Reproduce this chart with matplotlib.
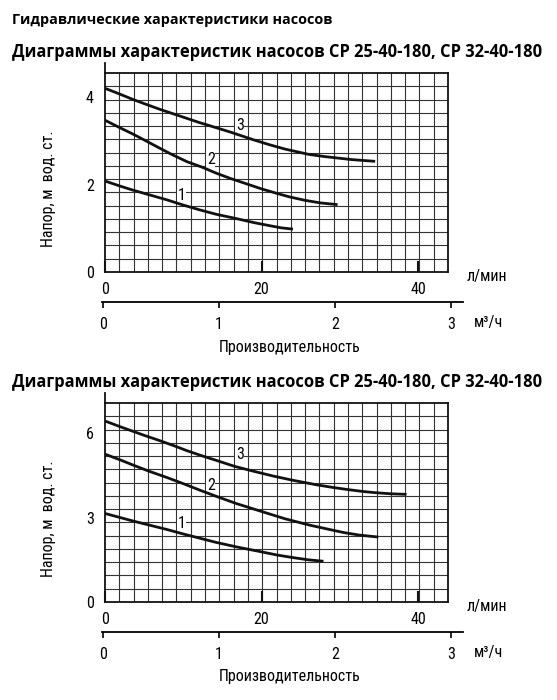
import matplotlib.pyplot as plt

W, H = 557, 700

# данные: расход (л/мин) и напор (м вод. ст.)
q1_a = [0, 2, 3.6, 5.75, 7.9, 10, 12.1, 14.2, 16.8, 19, 21, 22.5, 24]
h1_a = [2.08, 1.96, 1.87, 1.76, 1.65, 1.53, 1.42, 1.32, 1.22, 1.13, 1.06, 1.01, 0.98]
q2_a = [0, 2, 3.5, 5, 7, 8.5, 10.5, 12.5, 14.2, 16, 18, 20, 21.9, 23.5, 25.5, 27.5, 29.7]
h2_a = [3.47, 3.29, 3.16, 3.02, 2.83, 2.69, 2.52, 2.39, 2.26, 2.14, 2.02, 1.90, 1.80, 1.72, 1.64, 1.58, 1.54]
q3_a = [0, 2, 3.5, 5, 7, 9, 10.5, 12, 14, 16, 17.5, 19, 21, 23, 24.5, 26, 28, 30, 31.5, 33, 34.5]
h3_a = [4.20, 4.06, 3.95, 3.85, 3.72, 3.60, 3.51, 3.42, 3.31, 3.20, 3.11, 3.02, 2.91, 2.81, 2.75, 2.69, 2.64, 2.60, 2.57, 2.55, 2.53]

q1_b = [0, 2, 3.6, 5.75, 7.9, 10, 12.1, 14.2, 16.8, 19.7, 22, 24, 26, 27.9]
h1_b = [3.15, 3.00, 2.88, 2.73, 2.58, 2.42, 2.27, 2.12, 1.96, 1.80, 1.67, 1.58, 1.50, 1.45]
q2_b = [0, 2, 3.6, 5.75, 7.9, 10, 12.1, 14.2, 16.8, 20, 23, 26.2, 28.5, 30.5, 32.5, 34.9]
h2_b = [5.26, 5.05, 4.87, 4.64, 4.43, 4.21, 3.98, 3.76, 3.50, 3.22, 2.96, 2.73, 2.59, 2.47, 2.38, 2.31]
q3_b = [0, 2, 3.5, 5, 6.9, 9, 10.5, 12.5, 14.2, 16.5, 19, 21.5, 24, 27, 29, 31, 33, 34.5, 36.5, 38.5]
h3_b = [6.44, 6.23, 6.08, 5.93, 5.75, 5.54, 5.38, 5.19, 5.04, 4.83, 4.65, 4.48, 4.33, 4.17, 4.08, 4.00, 3.93, 3.89, 3.85, 3.83]

yticks_a = [0, 2, 4]
yticks_b = [0, 3, 6]
qticks = [0, 20, 40]
mticks = [0, 1, 2, 3]

title1 = 'Гидравлические характеристики насосов'
title2 = 'Диаграммы характеристик насосов СР 25-40-180, СР 32-40-180'

NARROW = ['Liberation Sans Narrow', 'Roboto Condensed', 'Liberation Sans', 'DejaVu Sans']
BOLD = ['Open Sans', 'DejaVu Sans']
FS = 11.5

fig = plt.figure(figsize=(W / 100, H / 100), dpi=100)


def px(x0, y0, w, h):
    # пиксели (от верхнего левого угла) -> доли фигуры
    return [x0 / W, 1 - (y0 + h) / H, w / W, h / H]


def chart(top, curves, labels, yticks, ymax):
    xmax = 43.8
    ax = fig.add_axes(px(105, top, 343, 199))
    ax.set_xlim(0, xmax)
    ax.set_ylim(0, ymax)
    for i in range(1, 24):
        ax.axvline(i / 24 * xmax, color='#333333', lw=0.8, zorder=1)
    for i in range(1, 15):
        ax.axhline(i / 15 * ymax, color='#333333', lw=0.8, zorder=1)
    for s in ax.spines.values():
        s.set_linewidth(1.3)
        s.set_color('#111111')
    ax.plot([0, 0], [1, 1.05], transform=ax.transAxes, color='#111111',
            lw=1.3, clip_on=False)
    for q, h in curves:
        ax.plot(q, h, color='#111111', lw=2.0, solid_capstyle='butt',
                solid_joinstyle='round', zorder=3)
    # номера кривых: фон ниже кривых, чтобы их не перекрывать
    for txt, x, y in labels:
        ax.text(x, y, txt, fontsize=FS, family=NARROW, ha='center',
                va='center', zorder=2,
                bbox=dict(facecolor='white', edgecolor='none', pad=0.3))
    ax.set_yticks(yticks)
    ax.set_xticks(qticks)
    ax.tick_params(axis='y', length=0, pad=8, labelsize=FS)
    ax.tick_params(axis='x', direction='in', length=8, width=1.5, pad=7,
                   labelsize=FS, color='#111111')
    for t in ax.get_xticklabels() + ax.get_yticklabels():
        t.set_family(NARROW)

    ax2 = fig.add_axes(px(102, top + 229, 361, 0.01))
    ax2.set_xlim(-1 / 116, 360 / 116)
    for k in ['top', 'left', 'right']:
        ax2.spines[k].set_visible(False)
    ax2.spines['bottom'].set_linewidth(1.3)
    ax2.set_yticks([])
    ax2.set_xticks(mticks)
    ax2.tick_params(axis='x', direction='out', length=4, width=1.2, pad=7,
                    labelsize=FS)
    for t in ax2.get_xticklabels():
        t.set_family(NARROW)

    fig.text(467 / W, 1 - (top + 204) / H, 'л/мин', fontsize=FS,
             family=NARROW, va='center')
    fig.text(474 / W, 1 - (top + 249) / H, 'м³/ч', fontsize=FS,
             family=NARROW, va='center')
    fig.text(290 / W, 1 - (top + 274) / H, 'Производительность',
             fontsize=FS, family=NARROW, ha='center', va='center')
    fig.text(48 / W, 1 - (top + 116) / H, 'Напор, м  вод. ст.',
             fontsize=FS, family=NARROW, ha='center', va='center',
             rotation=90)
    return ax


fig.text(12 / W, 1 - 20 / H, title1, fontsize=10.4, fontweight='bold',
         family=BOLD, va='center')
fig.text(12 / W, 1 - 52 / H, title2, fontsize=11.9, fontweight='bold',
         family=BOLD, va='center')
fig.text(12 / W, 1 - 382 / H, title2, fontsize=11.9, fontweight='bold',
         family=BOLD, va='center')

chart(73, [(q1_a, h1_a), (q2_a, h2_a), (q3_a, h3_a)],
      [('1', 9.8, 1.75), ('2', 13.5, 2.58), ('3', 17.2, 3.36)],
      yticks_a, 4.55)
chart(403, [(q1_b, h1_b), (q2_b, h2_b), (q3_b, h3_b)],
      [('1', 9.8, 2.78), ('2', 13.5, 4.16), ('3', 17.2, 5.24)],
      yticks_b, 7.08)

fig.savefig('out.png', dpi=100)
